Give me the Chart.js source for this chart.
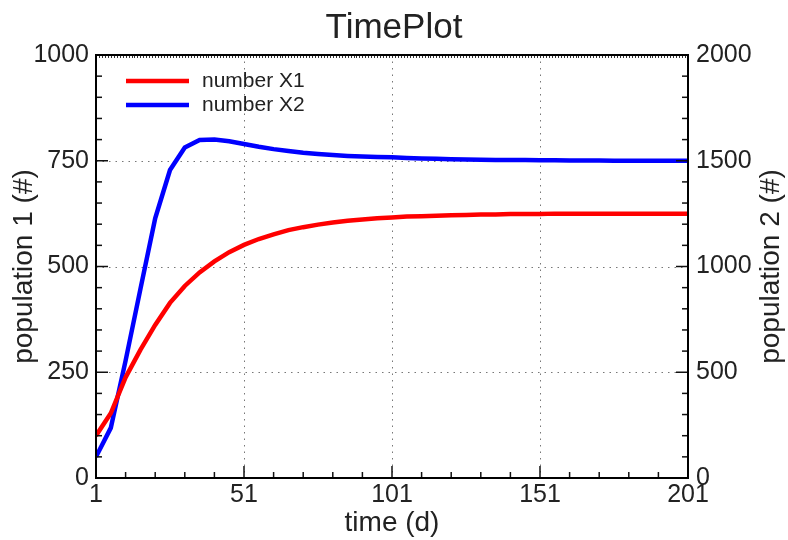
<!DOCTYPE html>
<html>
<head>
<meta charset="utf-8">
<script src="https://cdn.jsdelivr.net/npm/chart.js@4.4.0/dist/chart.umd.min.js"></script>
<style>
html,body{margin:0;padding:0;background:#fff;}
#wrap{width:788px;height:540px;position:relative;}
</style>
</head>
<body>
<div id="wrap"><canvas id="c" width="788" height="540"></canvas></div>
<script>
// ---- data ----
const timeDays = [1,6,11,16,21,26,31,36,41,46,51,56,61,66,71,76,81,86,91,96,101,106,111,116,121,126,131,136,141,146,151,156,161,166,171,176,181,186,191,196,201];
const numberX1 = [100,153,238,303,362,414,454,486,512,534,551,565,576,586,593,599,604,608,611,614,616,618,619,620,621,622,623,623,624,624,624,625,625,625,625,625,625,625,625,625,625];
const numberX2 = [100,237,555,893,1228,1456,1563,1598,1600,1592,1579,1566,1555,1546,1538,1532,1527,1523,1520,1518,1516,1513,1511,1509,1507,1506,1505,1504,1503,1503,1502,1502,1501,1501,1501,1500,1500,1500,1500,1500,1500];
const xTicks = [1,51,101,151,201];
const xMinorStep = 10;
const y1Ticks = [0,250,500,750,1000];
const y1MinorStep = 50;
const y2Ticks = [0,500,1000,1500,2000];
const seriesNames = ['number X1','number X2'];
const chartTitle = 'TimePlot';
const xTitle = 'time (d)';
const y1Title = 'population 1 (#)';
const y2Title = 'population 2 (#)';

const FONT = '"Liberation Sans", Arial, Helvetica, sans-serif';
const TXT = '#222';

const framePlugin = {
  id: 'frame',
  beforeDatasetsDraw(chart) {
    const ctx = chart.ctx, a = chart.chartArea;
    const xs = chart.scales.x, ys = chart.scales.y;
    ctx.save();
    ctx.strokeStyle = '#777';
    ctx.lineWidth = 1;
    ctx.setLineDash([1.5, 5]);
    xTicks.slice(1, -1).forEach(v => {
      const px = Math.round(xs.getPixelForValue(v)) + 0.5;
      ctx.beginPath(); ctx.moveTo(px, a.top); ctx.lineTo(px, a.bottom); ctx.stroke();
    });
    y1Ticks.slice(1, -1).forEach(v => {
      const py = Math.round(ys.getPixelForValue(v)) + 0.5;
      ctx.beginPath(); ctx.moveTo(a.left, py); ctx.lineTo(a.right, py); ctx.stroke();
    });
    ctx.restore();
  },
  afterDatasetsDraw(chart) {
    const ctx = chart.ctx, a = chart.chartArea;
    const xs = chart.scales.x, ys = chart.scales.y;
    ctx.save();
    ctx.strokeStyle = '#111';
    ctx.lineWidth = 1.5;
    ctx.setLineDash([]);
    for (let v = xTicks[0]; v <= xTicks[xTicks.length - 1]; v += xMinorStep) {
      const major = xTicks.includes(v);
      const len = major ? 12 : 6;
      const px = xs.getPixelForValue(v);
      ctx.beginPath(); ctx.moveTo(px, a.bottom); ctx.lineTo(px, a.bottom - len); ctx.stroke();
    }
    ctx.lineWidth = 1;
    ctx.strokeStyle = '#333';
    for (let v = xTicks[0]; v <= xTicks[xTicks.length - 1]; v += 1) {
      const px = Math.round(xs.getPixelForValue(v)) + 0.5;
      ctx.beginPath(); ctx.moveTo(px, a.top); ctx.lineTo(px, a.top + 3); ctx.stroke();
    }
    ctx.lineWidth = 1.5;
    ctx.strokeStyle = '#111';
    for (let v = y1Ticks[0]; v <= y1Ticks[y1Ticks.length - 1]; v += y1MinorStep) {
      const major = y1Ticks.includes(v);
      const len = major ? 12 : 6;
      const py = ys.getPixelForValue(v);
      ctx.beginPath(); ctx.moveTo(a.left, py); ctx.lineTo(a.left + len, py); ctx.stroke();
      ctx.beginPath(); ctx.moveTo(a.right, py); ctx.lineTo(a.right - len, py); ctx.stroke();
    }
    ctx.lineWidth = 2;
    ctx.strokeStyle = '#000';
    ctx.strokeRect(a.left, a.top, a.right - a.left, a.bottom - a.top);
    const lx0 = a.left + 30, lx1 = a.left + 93, ly0 = a.top + 26, dy = 24;
    chart.data.datasets.forEach((ds, i) => {
      const y = ly0 + i * dy;
      ctx.strokeStyle = ds.borderColor;
      ctx.lineWidth = 4.5;
      ctx.beginPath(); ctx.moveTo(lx0, y); ctx.lineTo(lx1, y); ctx.stroke();
      ctx.fillStyle = TXT;
      ctx.font = '21px ' + FONT;
      ctx.textBaseline = 'middle';
      ctx.textAlign = 'left';
      ctx.fillText(ds.label, lx1 + 13, y);
    });
    ctx.save();
    ctx.translate(771, (a.top + a.bottom) / 2);
    ctx.rotate(-Math.PI / 2);
    ctx.fillStyle = TXT;
    ctx.font = '28px ' + FONT;
    ctx.textAlign = 'center';
    ctx.textBaseline = 'middle';
    ctx.fillText(y2Title, 0, 0);
    ctx.restore();
    ctx.restore();
  }
};

const plain = v => String(v);

new Chart(document.getElementById('c'), {
  type: 'line',
  data: {
    labels: timeDays,
    datasets: [
      { label: seriesNames[0], data: timeDays.map((t, i) => ({x: t, y: numberX1[i]})), borderColor: '#ff0000', backgroundColor: '#ff0000', borderWidth: 4.5, pointRadius: 0, tension: 0, yAxisID: 'y' },
      { label: seriesNames[1], data: timeDays.map((t, i) => ({x: t, y: numberX2[i]})), borderColor: '#0000ff', backgroundColor: '#0000ff', borderWidth: 4.5, pointRadius: 0, tension: 0, yAxisID: 'y2' }
    ]
  },
  options: {
    responsive: false,
    animation: false,
    layout: { padding: 0 },
    plugins: {
      legend: { display: false },
      tooltip: { enabled: false },
      title: { display: true, text: chartTitle, color: TXT, font: { family: FONT, size: 35, weight: 'normal' }, padding: { top: 7, bottom: 6 } }
    },
    scales: {
      x: {
        type: 'linear', min: 1, max: 201,
        afterBuildTicks: s => { s.ticks = xTicks.map(v => ({ value: v })); },
        afterFit: s => { s.height = 62; },
        grid: { display: false, drawTicks: false },
        border: { display: false },
        ticks: { color: TXT, font: { family: FONT, size: 25 }, padding: 2, maxRotation: 0, autoSkip: false, callback: plain },
        title: { display: true, text: xTitle, color: TXT, font: { family: FONT, size: 28 }, padding: 0 }
      },
      y: {
        position: 'left', min: 0, max: 1000,
        afterBuildTicks: s => { s.ticks = y1Ticks.map(v => ({ value: v })); },
        afterFit: s => { s.width = 96; },
        grid: { display: false, drawTicks: false },
        border: { display: false },
        ticks: { color: TXT, font: { family: FONT, size: 25 }, padding: 7, callback: plain },
        title: { display: true, text: y1Title, color: TXT, font: { family: FONT, size: 28 }, padding: 7 }
      },
      y2: {
        position: 'right', min: 0, max: 2000,
        afterBuildTicks: s => { s.ticks = y2Ticks.map(v => ({ value: v })); },
        afterFit: s => { s.width = 100; },
        grid: { display: false, drawTicks: false },
        border: { display: false },
        ticks: { color: TXT, font: { family: FONT, size: 25 }, padding: 8, callback: plain }
      }
    }
  },
  plugins: [framePlugin]
});
</script>
</body>
</html>
